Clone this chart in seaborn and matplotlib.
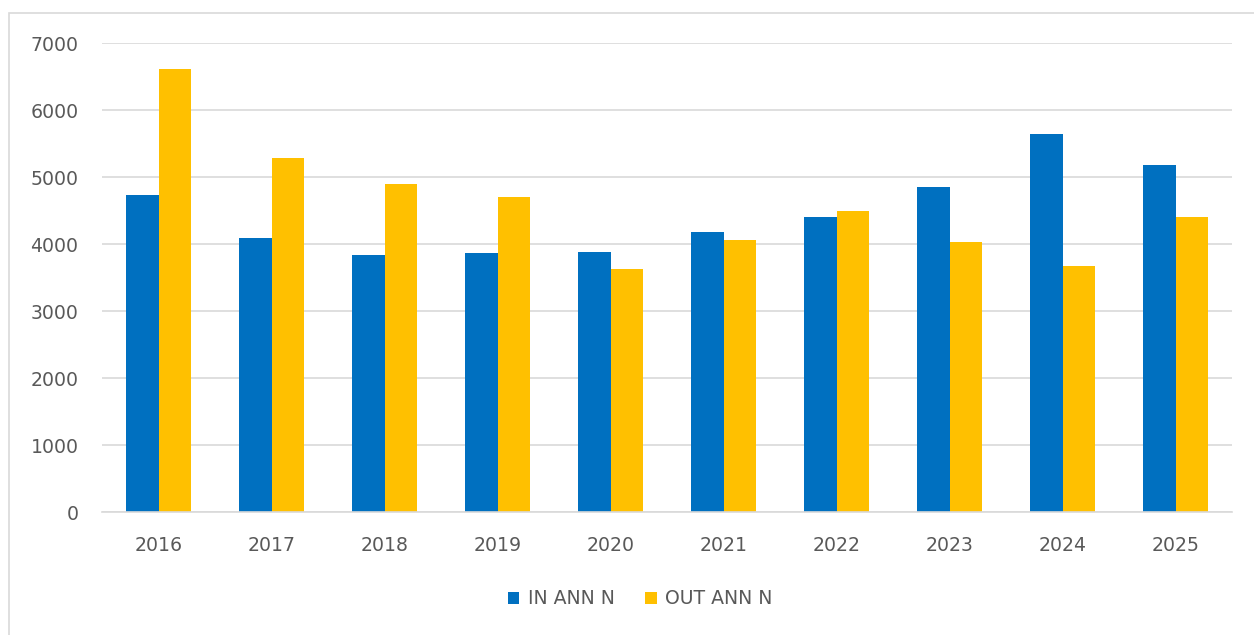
import pandas as pd
import seaborn as sns
import matplotlib.pyplot as plt
from matplotlib.patches import Rectangle

# DATA
years = ['2016', '2017', '2018', '2019', '2020', '2021', '2022', '2023', '2024', '2025']
in_ann = [4740, 4100, 3840, 3870, 3890, 4190, 4400, 4850, 5650, 5190]
out_ann = [6620, 5290, 4900, 4700, 3630, 4070, 4500, 4040, 3680, 4400]
series = ['IN ANN N', 'OUT ANN N']

df = pd.DataFrame({'Year': years * 2,
                   'Value': in_ann + out_ann,
                   'Series': [series[0]] * len(years) + [series[1]] * len(years)})

sns.set_style('white')
plt.rcParams['font.family'] = ['DejaVu Sans']
text_c = '#595959'
grid_c = '#D9D9D9'
fsize = 13.6

fig = plt.figure(figsize=(12.54, 6.35), dpi=100)
ax = fig.add_axes([102 / 1254, 1 - 512.3 / 635, 1130 / 1254, 469 / 635])

sns.barplot(data=df, x='Year', y='Value', hue='Series', ax=ax,
            palette=['#0070C0', '#FFC000'], width=0.58, gap=0,
            saturation=1, edgecolor='none', legend=True)

ax.set_ylim(0, 7000)
ax.set_yticks(range(0, 7001, 1000))
ax.set_xlim(-0.5, len(years) - 0.5)
ax.set_xlabel('')
ax.set_ylabel('')
ax.yaxis.grid(True, color=grid_c, linewidth=1.2)
ax.set_axisbelow(True)
for s in ['left', 'right', 'top']:
    ax.spines[s].set_visible(False)
ax.spines['bottom'].set_color(grid_c)
ax.spines['bottom'].set_linewidth(1.2)
ax.tick_params(axis='y', length=0, pad=17, labelsize=fsize, labelcolor=text_c)
ax.tick_params(axis='x', length=0, pad=17, labelsize=fsize, labelcolor=text_c)

handles, labels = ax.get_legend_handles_labels()
ax.legend(handles, labels, loc='center', bbox_to_anchor=(640 / 1254, 1 - 599 / 635),
          bbox_transform=fig.transFigure, ncol=2, frameon=False,
          fontsize=fsize, labelcolor=text_c, handlelength=0.62,
          handleheight=0.62, handletextpad=0.45, columnspacing=1.6)

# outer chart border
fig.patches.append(Rectangle((9 / 1254, -0.05), 1.2, 1.05 - 13 / 635,
                             transform=fig.transFigure, fill=False,
                             edgecolor=grid_c, linewidth=1.2))

fig.savefig('out.png', dpi=100)
